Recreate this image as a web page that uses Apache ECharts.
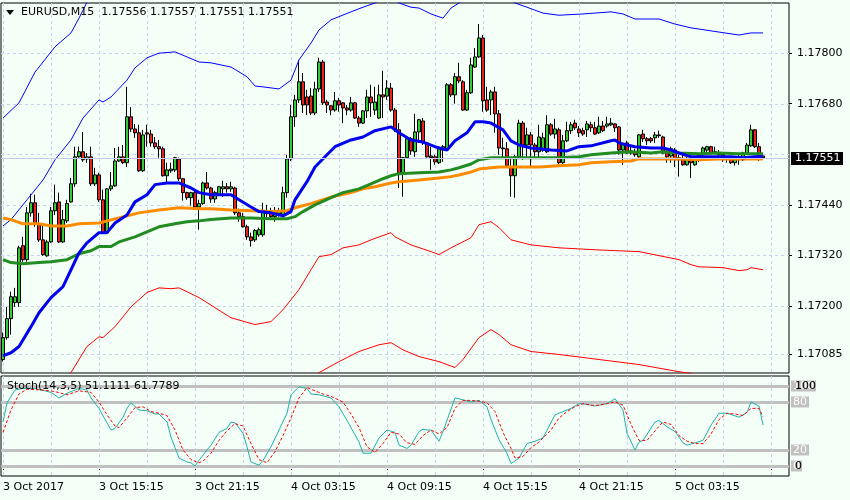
<!DOCTYPE html>
<html><head><meta charset="utf-8">
<script src="https://cdn.jsdelivr.net/npm/echarts@6/dist/echarts.min.js"></script>
<style>html,body{margin:0;padding:0;background:#F4FFF8;}#c{width:850px;height:500px;}</style>
</head><body><div id="c"></div>
<script>
// ---- price bars (EURUSD M15), bar 0 = 3 Oct 2017 09:15 ----
const opens = [1.17073,1.17125,1.17170,1.17208,1.17208,1.17343,1.17310,1.17421,1.17445,1.17395,1.17357,1.17319,1.17352,1.17426,1.17447,1.17352,1.17402,1.17447,1.17490,1.17554,1.17566,1.17549,1.17554,1.17490,1.17511,1.17452,1.17374,1.17478,1.17485,1.17544,1.17554,1.17540,1.17649,1.17620,1.17611,1.17521,1.17611,1.17608,1.17587,1.17578,1.17573,1.17509,1.17521,1.17523,1.17549,1.17502,1.17469,1.17457,1.17469,1.17435,1.17443,1.17492,1.17480,1.17454,1.17464,1.17478,1.17483,1.17478,1.17480,1.17421,1.17412,1.17388,1.17364,1.17357,1.17369,1.17369,1.17426,1.17421,1.17412,1.17419,1.17416,1.17469,1.17549,1.17649,1.17689,1.17732,1.17696,1.17698,1.17658,1.17715,1.17779,1.17684,1.17675,1.17665,1.17687,1.17682,1.17670,1.17665,1.17682,1.17646,1.17634,1.17663,1.17696,1.17665,1.17646,1.17701,1.17698,1.17717,1.17665,1.17618,1.17516,1.17552,1.17597,1.17566,1.17613,1.17639,1.17587,1.17556,1.17554,1.17540,1.17570,1.17573,1.17725,1.17701,1.17744,1.17732,1.17665,1.17706,1.17767,1.17791,1.17836,1.17689,1.17689,1.17708,1.17656,1.17575,1.17573,1.17530,1.17509,1.17554,1.17634,1.17582,1.17606,1.17582,1.17566,1.17570,1.17566,1.17630,1.17608,1.17618,1.17540,1.17592,1.17616,1.17634,1.17620,1.17616,1.17618,1.17630,1.17623,1.17611,1.17627,1.17627,1.17630,1.17632,1.17625,1.17570,1.17587,1.17568,1.17566,1.17554,1.17608,1.17597,1.17597,1.17599,1.17606,1.17601,1.17566,1.17556,1.17570,1.17552,1.17549,1.17535,1.17549,1.17535,1.17547,1.17559,1.17570,1.17578,1.17563,1.17563,1.17561,1.17554,1.17549,1.17540,1.17554,1.17547,1.17563,1.17580,1.17618,1.17578,1.17556];
const highs = [1.17137,1.17198,1.17234,1.17243,1.17343,1.17364,1.17435,1.17466,1.17464,1.17421,1.17393,1.17357,1.17435,1.17488,1.17469,1.17428,1.17452,1.17504,1.17578,1.17578,1.17613,1.17563,1.17578,1.17528,1.17516,1.17476,1.17480,1.17518,1.17575,1.17578,1.17582,1.17720,1.17672,1.17632,1.17630,1.17618,1.17630,1.17618,1.17601,1.17594,1.17578,1.17540,1.17540,1.17554,1.17552,1.17504,1.17471,1.17471,1.17476,1.17452,1.17495,1.17518,1.17483,1.17473,1.17485,1.17497,1.17492,1.17495,1.17483,1.17431,1.17421,1.17393,1.17374,1.17383,1.17386,1.17445,1.17440,1.17433,1.17435,1.17433,1.17483,1.17559,1.17677,1.17701,1.17784,1.17753,1.17713,1.17717,1.17732,1.17789,1.17784,1.17689,1.17677,1.17708,1.17694,1.17684,1.17677,1.17696,1.17684,1.17651,1.17665,1.17713,1.17725,1.17720,1.17725,1.17758,1.17736,1.17729,1.17670,1.17634,1.17554,1.17599,1.17601,1.17656,1.17644,1.17646,1.17589,1.17578,1.17559,1.17578,1.17582,1.17729,1.17729,1.17753,1.17777,1.17736,1.17713,1.17789,1.17812,1.17869,1.17843,1.17720,1.17713,1.17720,1.17665,1.17599,1.17589,1.17552,1.17559,1.17642,1.17639,1.17623,1.17613,1.17587,1.17630,1.17611,1.17653,1.17634,1.17644,1.17623,1.17606,1.17637,1.17637,1.17642,1.17627,1.17623,1.17639,1.17637,1.17637,1.17649,1.17639,1.17649,1.17646,1.17634,1.17627,1.17587,1.17592,1.17578,1.17573,1.17608,1.17618,1.17601,1.17601,1.17613,1.17616,1.17604,1.17573,1.17578,1.17575,1.17559,1.17563,1.17554,1.17563,1.17549,1.17563,1.17578,1.17580,1.17580,1.17578,1.17570,1.17563,1.17556,1.17556,1.17556,1.17559,1.17566,1.17587,1.17630,1.17620,1.17587,1.17557];
const lows = [1.17068,1.17120,1.17132,1.17198,1.17198,1.17305,1.17305,1.17412,1.17388,1.17352,1.17319,1.17317,1.17350,1.17416,1.17350,1.17350,1.17397,1.17445,1.17483,1.17552,1.17542,1.17540,1.17485,1.17485,1.17447,1.17371,1.17371,1.17473,1.17483,1.17542,1.17537,1.17530,1.17613,1.17599,1.17518,1.17518,1.17578,1.17578,1.17573,1.17552,1.17507,1.17492,1.17516,1.17518,1.17497,1.17450,1.17452,1.17438,1.17433,1.17381,1.17440,1.17476,1.17445,1.17445,1.17461,1.17459,1.17469,1.17471,1.17416,1.17400,1.17386,1.17357,1.17341,1.17352,1.17364,1.17364,1.17405,1.17405,1.17400,1.17412,1.17414,1.17457,1.17544,1.17625,1.17682,1.17658,1.17653,1.17653,1.17653,1.17708,1.17677,1.17658,1.17653,1.17661,1.17661,1.17634,1.17653,1.17661,1.17644,1.17625,1.17632,1.17646,1.17649,1.17653,1.17644,1.17646,1.17689,1.17661,1.17613,1.17480,1.17459,1.17549,1.17559,1.17554,1.17587,1.17582,1.17552,1.17523,1.17535,1.17537,1.17542,1.17570,1.17696,1.17680,1.17729,1.17663,1.17663,1.17703,1.17765,1.17789,1.17661,1.17661,1.17653,1.17611,1.17559,1.17552,1.17528,1.17459,1.17457,1.17552,1.17547,1.17552,1.17530,1.17554,1.17552,1.17566,1.17563,1.17604,1.17597,1.17535,1.17537,1.17589,1.17608,1.17618,1.17601,1.17604,1.17601,1.17613,1.17606,1.17608,1.17613,1.17623,1.17627,1.17613,1.17559,1.17535,1.17561,1.17559,1.17554,1.17552,1.17589,1.17582,1.17587,1.17587,1.17599,1.17561,1.17540,1.17540,1.17530,1.17507,1.17533,1.17533,1.17504,1.17533,1.17542,1.17554,1.17563,1.17561,1.17561,1.17554,1.17542,1.17540,1.17537,1.17533,1.17535,1.17544,1.17561,1.17578,1.17575,1.17544,1.17551];
const closes = [1.17125,1.17170,1.17222,1.17222,1.17338,1.17310,1.17421,1.17445,1.17395,1.17357,1.17322,1.17352,1.17426,1.17445,1.17352,1.17405,1.17443,1.17490,1.17554,1.17566,1.17547,1.17554,1.17490,1.17511,1.17452,1.17374,1.17478,1.17485,1.17544,1.17554,1.17540,1.17649,1.17620,1.17611,1.17521,1.17606,1.17608,1.17587,1.17578,1.17573,1.17509,1.17523,1.17525,1.17552,1.17502,1.17469,1.17457,1.17469,1.17435,1.17443,1.17492,1.17480,1.17454,1.17469,1.17483,1.17483,1.17478,1.17483,1.17421,1.17412,1.17388,1.17364,1.17355,1.17379,1.17381,1.17424,1.17419,1.17412,1.17424,1.17426,1.17469,1.17549,1.17649,1.17689,1.17732,1.17677,1.17677,1.17658,1.17715,1.17779,1.17682,1.17677,1.17665,1.17687,1.17677,1.17670,1.17665,1.17682,1.17646,1.17634,1.17663,1.17696,1.17682,1.17684,1.17701,1.17696,1.17717,1.17665,1.17618,1.17514,1.17552,1.17597,1.17568,1.17613,1.17642,1.17587,1.17554,1.17552,1.17542,1.17573,1.17578,1.17725,1.17701,1.17744,1.17734,1.17665,1.17706,1.17772,1.17791,1.17836,1.17687,1.17665,1.17708,1.17656,1.17575,1.17573,1.17533,1.17509,1.17554,1.17634,1.17582,1.17606,1.17582,1.17566,1.17601,1.17599,1.17630,1.17608,1.17620,1.17540,1.17592,1.17616,1.17630,1.17623,1.17611,1.17608,1.17632,1.17623,1.17608,1.17627,1.17616,1.17632,1.17634,1.17623,1.17570,1.17585,1.17563,1.17563,1.17559,1.17606,1.17597,1.17592,1.17592,1.17606,1.17604,1.17563,1.17554,1.17573,1.17547,1.17547,1.17535,1.17547,1.17540,1.17547,1.17561,1.17575,1.17578,1.17563,1.17566,1.17559,1.17554,1.17549,1.17540,1.17554,1.17547,1.17563,1.17582,1.17618,1.17578,1.17554,1.17551];

// ---- indicator lines, read as [bar index, price] ----
const fastMA = [[0,1.17082],[2,1.17089],[4,1.17104],[7,1.17151],[9,1.17184],[12,1.17220],[15,1.17246],[17,1.17286],[19,1.17326],[21,1.17350],[24,1.17374],[26,1.17374],[28,1.17397],[31,1.17416],[33,1.17447],[36,1.17464],[38,1.17488],[41,1.17492],[44,1.17492],[47,1.17480],[49,1.17469],[52,1.17464],[57,1.17464],[59,1.17452],[62,1.17435],[64,1.17424],[67,1.17421],[70,1.17414],[72,1.17424],[73,1.17452],[76,1.17495],[78,1.17530],[81,1.17559],[83,1.17578],[87,1.17594],[90,1.17601],[93,1.17616],[97,1.17625],[99,1.17611],[102,1.17594],[105,1.17589],[108,1.17578],[111,1.17570],[113,1.17592],[116,1.17611],[118,1.17637],[120,1.17637],[122,1.17634],[125,1.17618],[127,1.17592],[129,1.17582],[132,1.17575],[137,1.17570],[141,1.17568],[144,1.17578],[147,1.17580],[152,1.17592],[153,1.17594],[154,1.17587],[156,1.17582],[158,1.17578],[162,1.17575],[165,1.17575],[167,1.17570],[169,1.17563],[172,1.17554],[175,1.17554],[178,1.17554],[182,1.17554],[185,1.17552],[188,1.17554],[190,1.17554]];
const slowOrange = [[0,1.17409],[2,1.17405],[5,1.17395],[9,1.17395],[12,1.17390],[16,1.17390],[19,1.17395],[24,1.17397],[29,1.17409],[34,1.17421],[39,1.17428],[44,1.17433],[49,1.17431],[52,1.17431],[57,1.17428],[62,1.17426],[67,1.17424],[71,1.17426],[73,1.17433],[77,1.17443],[80,1.17452],[83,1.17461],[87,1.17469],[90,1.17478],[93,1.17483],[97,1.17492],[99,1.17495],[104,1.17499],[109,1.17504],[112,1.17507],[114,1.17511],[117,1.17518],[119,1.17525],[122,1.17528],[124,1.17530],[129,1.17530],[134,1.17530],[139,1.17533],[144,1.17535],[147,1.17540],[152,1.17542],[157,1.17544],[159,1.17549],[164,1.17549],[169,1.17549],[174,1.17547],[179,1.17549],[184,1.17549],[190,1.17549]];
const midGreen = [[0,1.17310],[2,1.17303],[5,1.17300],[9,1.17303],[12,1.17305],[16,1.17310],[19,1.17324],[22,1.17331],[24,1.17341],[27,1.17341],[29,1.17352],[33,1.17364],[36,1.17376],[39,1.17388],[43,1.17395],[46,1.17400],[49,1.17402],[52,1.17405],[57,1.17409],[62,1.17409],[67,1.17407],[71,1.17407],[73,1.17412],[75,1.17424],[78,1.17440],[82,1.17457],[85,1.17469],[89,1.17478],[92,1.17490],[95,1.17502],[97,1.17509],[99,1.17514],[104,1.17516],[109,1.17518],[112,1.17523],[114,1.17528],[117,1.17537],[119,1.17547],[122,1.17552],[124,1.17552],[129,1.17552],[134,1.17552],[139,1.17552],[144,1.17554],[147,1.17559],[152,1.17563],[157,1.17566],[162,1.17563],[165,1.17566],[169,1.17563],[174,1.17561],[179,1.17563],[184,1.17561],[190,1.17561]];
const outerUpper = [[0,1.17646],[4,1.17682],[8,1.17755],[13,1.17815],[17,1.17848],[19,1.17883],[21,1.17921],[23,1.17950]];
const innerUpper = [[0,1.17390],[2,1.17405],[6,1.17452],[10,1.17499],[13,1.17547],[17,1.17594],[20,1.17646],[24,1.17689],[25,1.17684],[27,1.17696],[31,1.17736],[33,1.17765],[36,1.17789],[39,1.17800],[43,1.17803],[46,1.17791],[49,1.17779],[52,1.17777],[57,1.17767],[61,1.17744],[63,1.17722],[65,1.17720],[69,1.17715],[72,1.17736],[74,1.17784],[77,1.17824],[79,1.17855],[82,1.17879],[87,1.17898],[90,1.17909],[93,1.17919],[95,1.17930],[97,1.17930],[99,1.17919],[102,1.17909],[104,1.17907],[107,1.17893],[110,1.17883],[112,1.17907],[114,1.17919],[116,1.17935],[120,1.17955],[125,1.17940],[128,1.17919],[131,1.17909],[135,1.17895],[139,1.17890],[145,1.17893],[152,1.17898],[155,1.17893],[158,1.17881],[164,1.17881],[168,1.17869],[172,1.17860],[179,1.17850],[184,1.17843],[187,1.17848],[190,1.17848]];
const innerLower = [[14,1.16990],[17,1.17042],[21,1.17104],[24,1.17127],[25,1.17125],[28,1.17151],[32,1.17198],[36,1.17232],[39,1.17243],[42,1.17241],[44,1.17243],[49,1.17220],[57,1.17172],[63,1.17156],[67,1.17163],[70,1.17191],[74,1.17239],[77,1.17286],[79,1.17317],[82,1.17322],[85,1.17338],[89,1.17345],[92,1.17357],[97,1.17374],[98,1.17364],[102,1.17345],[107,1.17329],[109,1.17322],[112,1.17338],[117,1.17362],[119,1.17393],[122,1.17400],[124,1.17386],[127,1.17357],[132,1.17345],[139,1.17338],[149,1.17333],[159,1.17329],[169,1.17310],[172,1.17298],[174,1.17293],[180,1.17291],[184,1.17284],[186,1.17286],[187,1.17291],[190,1.17286]];
const outerLower = [[76,1.17015],[79,1.17042],[84,1.17068],[89,1.17092],[94,1.17108],[97,1.17113],[100,1.17096],[104,1.17080],[109,1.17068],[113,1.17054],[115,1.17073],[119,1.17125],[122,1.17144],[124,1.17132],[127,1.17108],[132,1.17092],[139,1.17085],[149,1.17073],[159,1.17061],[169,1.17044],[172,1.17040],[176,1.17025]];

// ---- Stochastic (14,3,5): main and signal, [bar index, value] ----
const stochMain = [[0,55],[1,79],[3,95],[5,97],[8,97],[12,92],[14,85],[16,91],[19,97],[21,95],[22,85],[24,72],[26,54],[27,45],[28,47],[30,61],[31,72],[32,79],[34,70],[36,69],[38,65],[39,65],[41,55],[42,36],[44,10],[46,5],[47,4],[48,0],[49,7],[51,20],[52,26],[54,42],[56,47],[57,55],[58,54],[60,41],[61,24],[62,5],[64,1],[65,7],[67,24],[69,45],[71,66],[72,89],[74,99],[76,97],[77,90],[79,89],[82,85],[84,74],[86,57],[89,30],[90,16],[92,16],[94,35],[96,45],[98,42],[99,26],[101,22],[102,26],[104,43],[105,46],[106,45],[107,45],[109,31],[110,43],[113,85],[114,84],[117,80],[119,82],[121,74],[122,58],[124,33],[126,16],[127,3],[129,10],[131,28],[133,31],[135,35],[138,64],[140,68],[142,72],[144,78],[146,77],[148,75],[150,77],[151,78],[153,84],[155,70],[156,41],[158,20],[159,30],[160,32],[163,55],[164,57],[166,49],[168,43],[170,29],[171,26],[173,29],[175,32],[177,51],[179,66],[181,66],[184,61],[186,67],[187,80],[189,75],[190,51.1111]];
const stochSignal = [[0,42],[2,70],[4,90],[6,96],[10,95],[13,93],[16,89],[19,94],[22,92],[24,80],[26,64],[28,50],[29,48],[31,60],[33,73],[35,74],[37,68],[39,66],[41,63],[43,45],[45,20],[47,8],[49,4],[50,6],[52,16],[54,32],[56,44],[58,53],[60,50],[62,28],[64,8],[66,4],[68,18],[70,38],[72,60],[74,85],[76,98],[78,94],[80,90],[82,87],[85,80],[87,65],[89,48],[91,24],[93,17],[95,28],[97,42],[99,40],[101,29],[103,27],[105,38],[107,45],[109,40],[111,48],[113,72],[115,82],[117,82],[119,81],[121,79],[123,68],[125,42],[127,22],[128,10],[130,12],[132,23],[134,30],[137,45],[139,60],[141,68],[143,74],[145,78],[147,76],[149,76],[151,78],[153,80],[155,76],[157,52],[159,32],[161,32],[163,44],[165,55],[167,52],[169,38],[171,31],[173,28],[175,28],[177,40],[179,58],[181,66],[183,65],[185,63],[187,72],[189,72],[190,61.7789]];
const stochLevels = [100, 80, 20, 0];

// ---- axes ----
const priceTicks = [1.17800, 1.17680, 1.17440, 1.17320, 1.17200, 1.17085];
const priceGrid = [1.17800, 1.17680, 1.17560, 1.17440, 1.17320, 1.17200, 1.17085];
const timeTickLabels = ['3 Oct 2017','3 Oct 15:15','3 Oct 21:15','4 Oct 03:15','4 Oct 09:15','4 Oct 15:15','4 Oct 21:15','5 Oct 03:15'];
const labelStep = 24, gridStep = 12, slots = 197;
const headerText = 'EURUSD,M15  1.17556 1.17557 1.17551 1.17551';
const stochText = 'Stoch(14,3,5) 51.1111 61.7789';

const months = ['Jan','Feb','Mar','Apr','May','Jun','Jul','Aug','Sep','Oct','Nov','Dec'];
const categories = [];
const t0 = Date.UTC(2017, 9, 3, 9, 15);
for (let i = 0; i < slots; i++) {
  const d = new Date(t0 + i * 15 * 60000);
  const hh = String(d.getUTCHours()).padStart(2, '0'), mm = String(d.getUTCMinutes()).padStart(2, '0');
  categories.push(d.getUTCDate() + ' ' + months[d.getUTCMonth()] + ' ' + hh + ':' + mm);
}
const candles = opens.map((o, i) => [o, closes[i], lows[i], highs[i]]);
const lastClose = closes[closes.length - 1];
const gridCols = [];
for (let i = 0; i < slots; i += gridStep) gridCols.push(i);

const FONT = 'DejaVu Sans';
const gridColor = '#C9D0EC';

// guide lines drawn through the axes' own scales
function hLines(color, dash) {
  return (params, api) => {
    const cs = params.coordSys;
    const y = Math.round(api.coord([0, api.value(1)])[1]) + 0.5;
    return { type: 'line', silent: true, shape: { x1: cs.x, y1: y, x2: cs.x + cs.width, y2: y },
      style: { stroke: color, lineWidth: 1, lineDash: dash } };
  };
}
function vLines(params, api) {
  const cs = params.coordSys;
  const x = Math.round(api.coord([api.value(0), api.value(1)])[0]) + 0.5;
  return { type: 'line', silent: true, shape: { x1: x, y1: cs.y, x2: x, y2: cs.y + cs.height },
    style: { stroke: gridColor, lineWidth: 1, lineDash: [3, 3] } };
}
function bidLine(params, api) {
  const cs = params.coordSys;
  const y = Math.round(api.coord([0, api.value(1)])[1]) + 0.5;
  return { type: 'group', children: [
    { type: 'line', shape: { x1: cs.x, y1: y, x2: cs.x + cs.width, y2: y }, style: { stroke: '#C4CCEA', lineWidth: 1 } },
    { type: 'rect', shape: { x: cs.x + cs.width + 2, y: y - 6.5, width: 52, height: 13 }, style: { fill: '#000' } },
    { type: 'text', style: { x: cs.x + cs.width + 6, y: y, text: api.value(1).toFixed(5), fill: '#fff',
      font: '11px "DejaVu Sans"', verticalAlign: 'middle', align: 'left' } }
  ] };
}

const chart = echarts.init(document.getElementById('c'), null, { renderer: 'canvas' });
chart.setOption({
  animation: false,
  backgroundColor: '#F4FFF8',
  textStyle: { fontFamily: FONT },
  grid: [
    { left: 1, top: 3, width: 788, height: 370, show: true, borderColor: '#000', borderWidth: 1 },
    { left: 1, top: 376, width: 788, height: 100, show: true, borderColor: '#000', borderWidth: 1 }
  ],
  xAxis: [
    { type: 'category', gridIndex: 0, data: categories, boundaryGap: true,
      axisLine: { show: false }, axisTick: { show: false }, axisLabel: { show: false }, splitLine: { show: false } },
    { type: 'category', gridIndex: 1, data: categories, boundaryGap: true,
      axisLine: { show: false },
      axisTick: { show: true, alignWithLabel: true, interval: labelStep - 1, length: 4, lineStyle: { color: '#000' } },
      axisLabel: { interval: labelStep - 1, align: 'left', margin: 6, fontSize: 11, color: '#000', fontFamily: FONT,
        formatter: (v, i) => timeTickLabels[i / labelStep] || '' },
      splitLine: { show: false } }
  ],
  yAxis: [
    { type: 'value', gridIndex: 0, position: 'right', min: 1.17041, max: 1.17919,
      axisLine: { show: false }, splitLine: { show: false },
      axisTick: { show: true, customValues: priceTicks, length: 3, lineStyle: { color: '#000' } },
      axisLabel: { customValues: priceTicks, formatter: v => v.toFixed(5), fontSize: 11, color: '#000', margin: 8, fontFamily: FONT } },
    { type: 'value', gridIndex: 1, position: 'right', min: -12.5, max: 112.5, z: 8,
      axisLine: { show: false }, splitLine: { show: false }, axisTick: { show: false },
      axisLabel: { customValues: [100, 0], formatter: v => String(v), fontSize: 11, color: '#000', margin: 6, fontFamily: FONT } }
  ],
  series: [
    { type: 'custom', name: 'hgrid', xAxisIndex: 0, yAxisIndex: 0, z: 1, silent: true, clip: false,
      data: priceGrid.map(v => [0, v]), renderItem: hLines(gridColor, [3, 3]) },
    { type: 'custom', name: 'vgrid', xAxisIndex: 0, yAxisIndex: 0, z: 1, silent: true, clip: false,
      data: gridCols.map(i => [i, 1.175]), renderItem: vLines },
    { type: 'custom', name: 'vgrid2', xAxisIndex: 1, yAxisIndex: 1, z: 1, silent: true, clip: false,
      data: gridCols.map(i => [i, 50]), renderItem: vLines },
    { type: 'candlestick', xAxisIndex: 0, yAxisIndex: 0, data: candles, barWidth: 3, z: 2,
      itemStyle: { color: '#33CC33', color0: '#E8231E', borderColor: '#000', borderColor0: '#000', borderWidth: 1 } },
    { type: 'line', name: 'outerUpper', xAxisIndex: 0, yAxisIndex: 0, data: outerUpper, symbol: 'none', lineStyle: { color: '#0000FF', width: 1 }, z: 3 },
    { type: 'line', name: 'innerUpper', xAxisIndex: 0, yAxisIndex: 0, data: innerUpper, symbol: 'none', lineStyle: { color: '#0000FF', width: 1 }, z: 3 },
    { type: 'line', name: 'innerLower', xAxisIndex: 0, yAxisIndex: 0, data: innerLower, symbol: 'none', lineStyle: { color: '#FF0000', width: 1 }, z: 3 },
    { type: 'line', name: 'outerLower', xAxisIndex: 0, yAxisIndex: 0, data: outerLower, symbol: 'none', lineStyle: { color: '#FF0000', width: 1 }, z: 3 },
    { type: 'line', name: 'orange', xAxisIndex: 0, yAxisIndex: 0, data: slowOrange, symbol: 'none', lineStyle: { color: '#FF8C00', width: 3 }, z: 3 },
    { type: 'line', name: 'green', xAxisIndex: 0, yAxisIndex: 0, data: midGreen, symbol: 'none', lineStyle: { color: '#228B22', width: 3 }, z: 3 },
    { type: 'line', name: 'fast', xAxisIndex: 0, yAxisIndex: 0, data: fastMA, symbol: 'none', lineStyle: { color: '#0000EE', width: 3 }, z: 4 },
    { type: 'custom', name: 'bid', xAxisIndex: 0, yAxisIndex: 0, z: 6, silent: true, clip: false,
      data: [[0, lastClose]], renderItem: bidLine },
    { type: 'line', name: 'stochMain', xAxisIndex: 1, yAxisIndex: 1, data: stochMain, symbol: 'none',
      lineStyle: { color: '#20B2AA', width: 1 }, z: 3,
      markLine: { silent: true, z: 1, symbol: ['none', 'none'],
        data: stochLevels.map(v => ({ yAxis: v, lineStyle: { color: '#C0C0C0', type: 'solid', width: 3 },
            label: { show: true, position: 'end', distance: 2, formatter: String(v), color: '#fff', backgroundColor: '#C0C0C0',
              padding: [0, 2], fontSize: 11, fontFamily: FONT } })) } },
    { type: 'line', name: 'stochSignal', xAxisIndex: 1, yAxisIndex: 1, data: stochSignal, symbol: 'none',
      lineStyle: { color: '#FF0000', width: 1, type: [3, 2] }, z: 3 }
  ],
  graphic: [
    { type: 'polygon', z: 100, shape: { points: [[6, 10], [14, 10], [10, 15]] }, style: { fill: '#000' } },
    { type: 'text', z: 100, left: 21, top: 7, style: { text: headerText, font: '11px "DejaVu Sans"', fill: '#000' } },
    { type: 'text', z: 100, left: 7, top: 381, style: { text: stochText, font: '11px "DejaVu Sans"', fill: '#000' } }
  ]
});
</script>
</body></html>
